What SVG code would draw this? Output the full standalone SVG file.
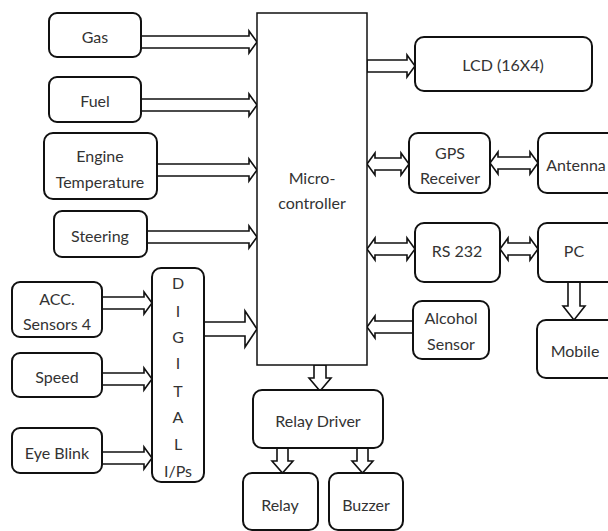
<svg xmlns="http://www.w3.org/2000/svg" width="608" height="531" viewBox="0 0 608 531">
<style>
.box{fill:#fff;stroke:#111;stroke-width:2}
.mc{fill:#fff;stroke:#111;stroke-width:1.5}
.t{font-family:Lato,"Open Sans","Liberation Sans",sans-serif;font-size:16px;fill:#333;text-anchor:middle;dominant-baseline:central}
.ar{fill:#fff;stroke:#111;stroke-width:1.6;stroke-linejoin:miter}
</style>
<rect width="608" height="531" fill="#fff"/>
<g id="connectors">
<polygon class="ar" points="141,36 249,36 249,31 257,42 249,53 249,48 141,48"/>
<polygon class="ar" points="141,99 249,99 249,94 257,105 249,116 249,111 141,111"/>
<polygon class="ar" points="157,164 249,164 249,159 257,170 249,181 249,176 157,176"/>
<polygon class="ar" points="147,231 249,231 249,226 257,237 249,248 249,243 147,243"/>
<polygon class="ar" points="367,60 407,60 407,55 415,66 407,77 407,72 367,72"/>
<polygon class="ar" points="367,164 375,153 375,158 401,158 401,153 409,164 401,175 401,170 375,170 375,175"/>
<polygon class="ar" points="490,163 498,152 498,157 530,157 530,152 538,163 530,174 530,169 498,169 498,174"/>
<polygon class="ar" points="367,249 375,238 375,243 407,243 407,238 415,249 407,260 407,255 375,255 375,260"/>
<polygon class="ar" points="500,249 508,238 508,243 530,243 530,238 538,249 530,260 530,255 508,255 508,260"/>
<polygon class="ar" points="568,282 580,282 580,306 585,306 574,320 563,306 568,306"/>
<polygon class="ar" points="102,297 144,297 144,292 152,303 144,314 144,309 102,309"/>
<polygon class="ar" points="102,373 144,373 144,368 152,379 144,390 144,385 102,385"/>
<polygon class="ar" points="102,452 144,452 144,447 152,458 144,469 144,464 102,464"/>
<polygon class="ar" points="204,322 245,322 245,311 257,329 245,347 245,336 204,336"/>
<polygon class="ar" points="413,321 375,321 375,316 367,327 375,338 375,333 413,333"/>
<polygon class="ar" points="314,365 326,365 326,378 331,378 320,391 309,378 314,378"/>
<polygon class="ar" points="277,448 288,448 288,461 293,461 282.5,473 272,461 277,461"/>
<polygon class="ar" points="357,448 368,448 368,461 373,461 362.5,473 352,461 357,461"/>
</g>
<g id="gas"><rect class="box" x="49" y="13" width="92" height="44" rx="8"/><text class="t" x="95" y="36">Gas</text></g>
<g id="fuel"><rect class="box" x="49" y="77" width="92" height="45" rx="8"/><text class="t" x="95" y="100">Fuel</text></g>
<g id="engine"><rect class="box" x="44" y="133" width="113" height="66" rx="9"/><text class="t" x="100" y="155">Engine</text><text class="t" x="100" y="181">Temperature</text></g>
<g id="steering"><rect class="box" x="54" y="211" width="93" height="46" rx="8"/><text class="t" x="100" y="235">Steering</text></g>
<g id="micro"><rect class="mc" x="257" y="13" width="110" height="352"/><text class="t" x="312" y="177">Micro-</text><text class="t" x="312" y="202">controller</text></g>
<g id="lcd"><rect class="box" x="415" y="37" width="177" height="54" rx="9"/><text class="t" x="503" y="64">LCD (16X4)</text></g>
<g id="gps"><rect class="box" x="409" y="133" width="81" height="60" rx="9"/><text class="t" x="450" y="152">GPS</text><text class="t" x="450" y="177">Receiver</text></g>
<g id="antenna"><rect class="box" x="538" y="133" width="80" height="60" rx="9"/><text class="t" x="576" y="164">Antenna</text></g>
<g id="rs232"><rect class="box" x="415" y="223" width="85" height="59" rx="9"/><text class="t" x="457" y="250">RS 232</text></g>
<g id="pc"><rect class="box" x="538" y="223" width="80" height="59" rx="9"/><text class="t" x="574" y="250">PC</text></g>
<g id="mobile"><rect class="box" x="537" y="320" width="81" height="58" rx="9"/><text class="t" x="575" y="350">Mobile</text></g>
<g id="alcohol"><rect class="box" x="413" y="301" width="76" height="58" rx="9"/><text class="t" x="451" y="317">Alcohol</text><text class="t" x="451" y="343">Sensor</text></g>
<g id="acc"><rect class="box" x="12" y="282" width="90" height="55" rx="8"/><text class="t" x="57" y="298">ACC.</text><text class="t" x="57" y="323">Sensors 4</text></g>
<g id="speed"><rect class="box" x="12" y="353" width="90" height="44" rx="8"/><text class="t" x="57" y="376">Speed</text></g>
<g id="eyeblink"><rect class="box" x="12" y="428" width="90" height="45" rx="8"/><text class="t" x="57" y="452">Eye Blink</text></g>
<g id="digital"><rect class="box" x="152" y="268" width="52" height="214" rx="9"/>
<text class="t" x="178" y="282">D</text><text class="t" x="178" y="310">I</text><text class="t" x="178" y="336">G</text><text class="t" x="178" y="362">I</text><text class="t" x="178" y="390">T</text><text class="t" x="178" y="416">A</text><text class="t" x="178" y="443">L</text><text class="t" x="178" y="470">I/Ps</text></g>
<g id="relaydriver"><rect class="box" x="253" y="390" width="130" height="58" rx="9"/><text class="t" x="318" y="420">Relay Driver</text></g>
<g id="relay"><rect class="box" x="243" y="473" width="75" height="57" rx="9"/><text class="t" x="280" y="504">Relay</text></g>
<g id="buzzer"><rect class="box" x="329" y="473" width="74" height="57" rx="9"/><text class="t" x="366" y="504">Buzzer</text></g>
</svg>
